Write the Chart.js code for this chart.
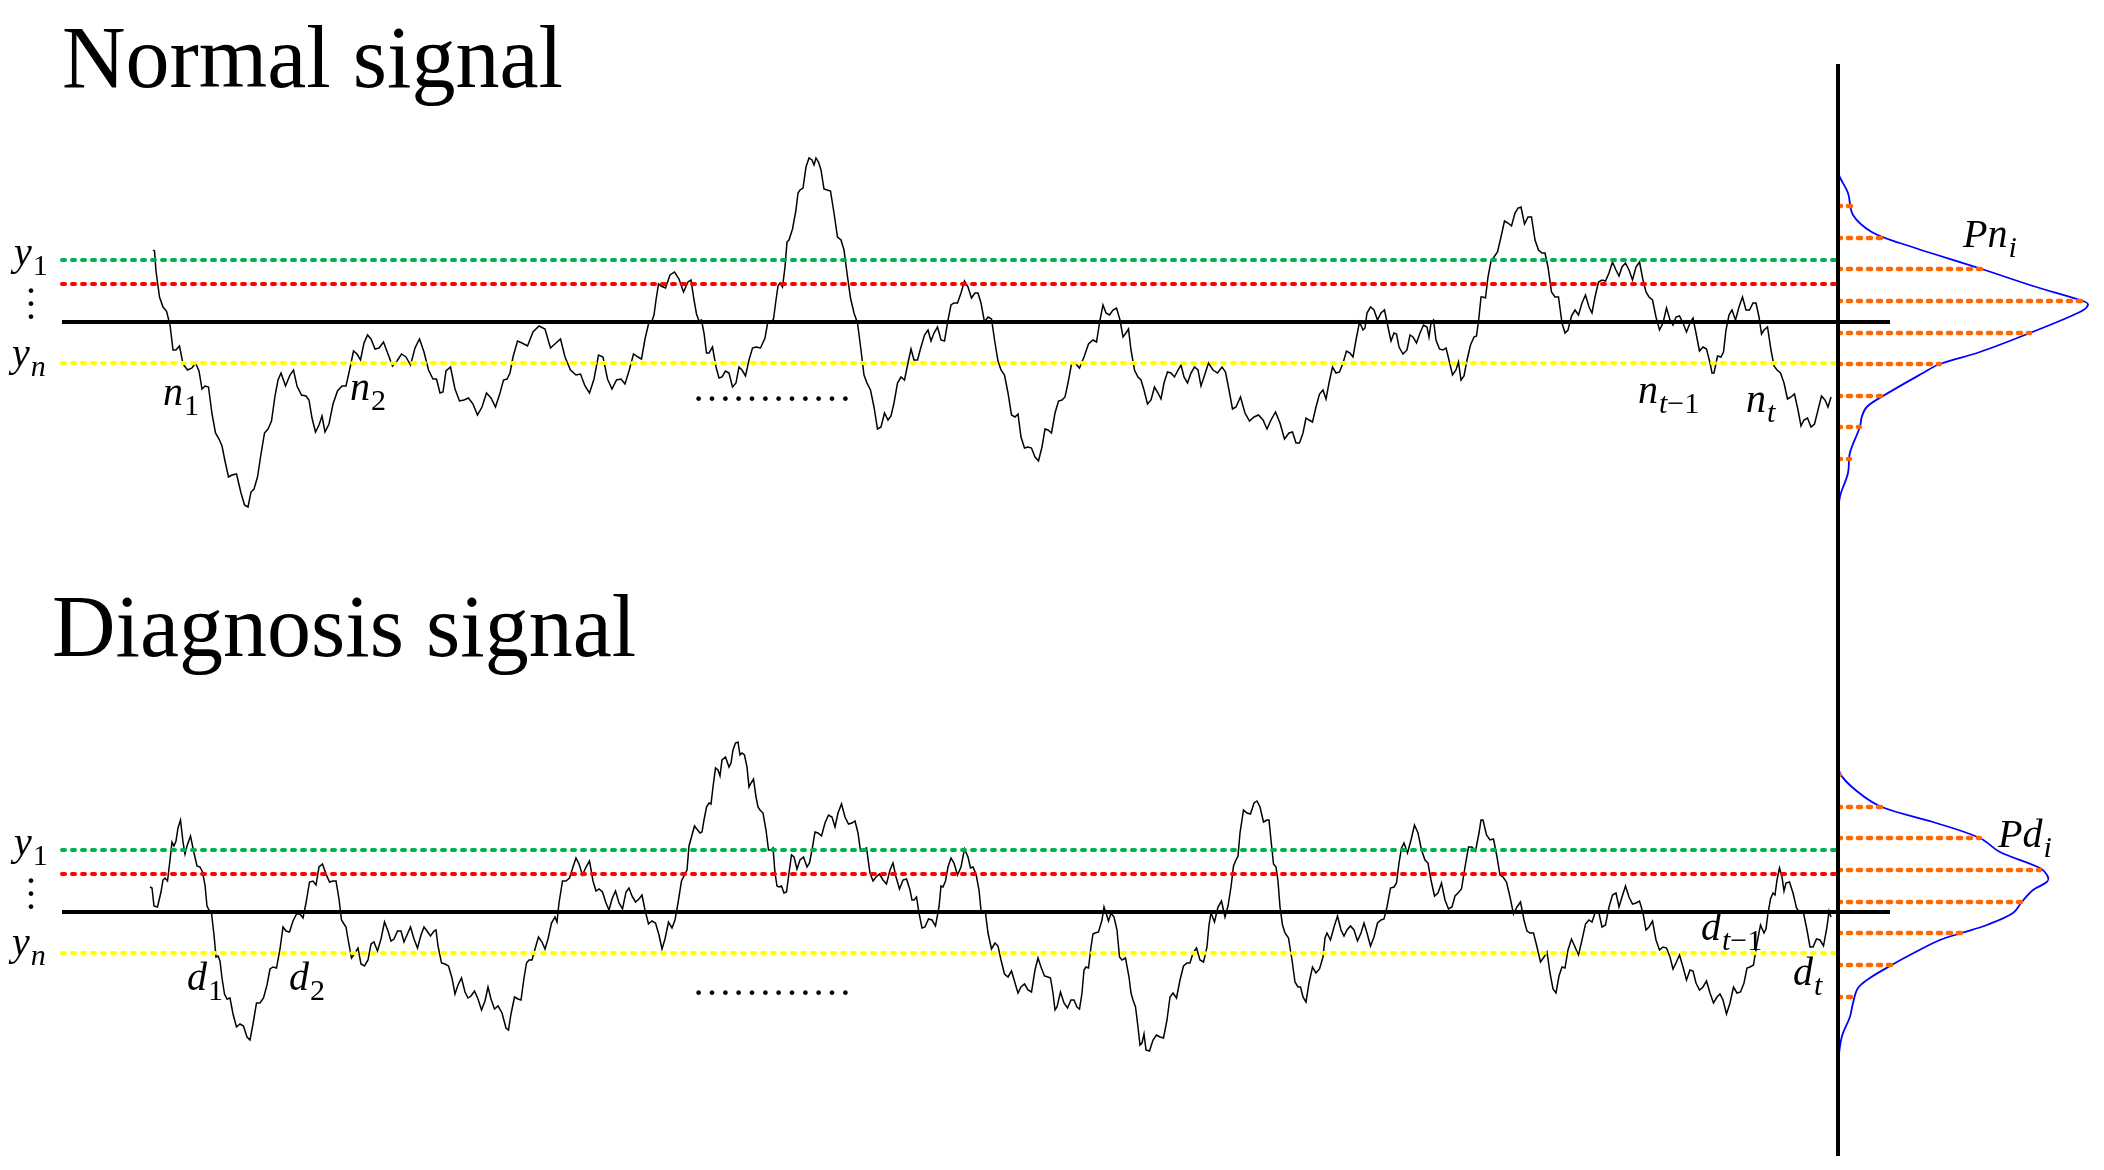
<!DOCTYPE html>
<html>
<head>
<meta charset="utf-8">
<script src="https://cdn.jsdelivr.net/npm/chart.js@4.4.1/dist/chart.umd.min.js"></script>
<style>
  html, body { margin: 0; padding: 0; background: #fff; }
  canvas { display: block; }
</style>
</head>
<body>
<canvas id="chart" width="2104" height="1170"></canvas>
<script>
// signals: [time index, amplitude] (black reference line = 0)
const normalSignal = [
  [0.3,7.2],[0.45,7.1],[0.6,5.1],[0.95,2.5],[1.3,1.5],[1.65,1.1],[2.0,-0.3],[2.3,-2.8],[2.6,-2.8],[2.95,-2.4],
  [3.3,-4.2],[3.75,-4.8],[4.2,-4.6],[4.55,-4.1],[4.9,-4.9],[5.2,-6.7],[5.5,-6.4],[5.85,-6.5],[6.2,-9.2],[6.55,-11.1],
  [6.9,-11.7],[7.2,-12.4],[7.5,-13.9],[7.85,-15.5],[8.2,-15.3],[8.65,-15.2],[9.1,-17.1],[9.45,-18.3],[9.8,-18.5],[10.1,-17.0],
  [10.4,-16.7],[10.75,-15.5],[11.1,-13.2],[11.45,-11.1],[11.8,-10.7],[12.15,-9.9],[12.5,-7.4],[12.8,-5.8],[13.1,-5.1],[13.55,-6.4],
  [14.0,-5.3],[14.35,-4.8],[14.7,-6.4],[15.15,-7.3],[15.6,-7.4],[15.9,-7.8],[16.2,-9.6],[16.55,-11.0],[16.9,-10.3],[17.2,-9.4],
  [17.5,-11.0],[17.9,-10.2],[18.3,-8.2],[18.75,-6.9],[19.2,-6.4],[19.6,-6.4],[20.0,-4.6],[20.35,-2.9],[20.7,-3.2],[21.05,-3.8],
  [21.4,-2.1],[21.75,-1.3],[22.1,-1.7],[22.5,-2.7],[22.9,-2.6],[23.35,-2.0],[23.8,-3.2],[24.25,-4.4],[24.7,-3.9],[25.15,-3.2],
  [25.6,-3.5],[26.05,-4.3],[26.5,-2.6],[26.95,-1.7],[27.4,-3.0],[27.85,-4.8],[28.3,-5.7],[28.65,-5.7],[29.0,-7.1],[29.3,-7.0],
  [29.6,-4.9],[30.05,-4.5],[30.5,-6.7],[30.95,-7.9],[31.4,-7.8],[31.85,-7.6],[32.3,-8.2],[32.75,-9.3],[33.2,-8.5],[33.65,-7.1],
  [34.1,-7.6],[34.55,-8.5],[35.0,-7.1],[35.35,-5.8],[35.7,-5.7],[36.0,-5.1],[36.3,-3.5],[36.75,-1.9],[37.2,-2.1],[37.75,-2.4],
  [38.3,-1.0],[38.9,-0.4],[39.5,-0.7],[40.05,-2.6],[40.6,-2.1],[41.05,-1.7],[41.5,-3.5],[42.05,-4.8],[42.6,-5.3],[43.05,-5.2],
  [43.5,-6.4],[43.95,-7.1],[44.4,-5.7],[44.85,-3.3],[45.3,-3.5],[45.75,-5.7],[46.2,-6.7],[46.65,-5.8],[47.1,-5.7],[47.5,-6.2],
  [47.9,-4.9],[48.35,-3.2],[48.8,-3.5],[49.15,-3.7],[49.5,-1.7],[49.85,-0.2],[50.2,0.1],[50.4,0.7],[50.6,2.2],[50.85,3.8],
  [51.1,3.6],[51.55,3.4],[52.0,4.7],[52.45,5.0],[52.9,4.3],[53.35,3.0],[53.8,4.0],[54.1,4.2],[54.4,2.2],[54.65,0.8],
  [54.9,0.1],[55.15,0.2],[55.4,-1.1],[55.65,-3.1],[55.9,-3.1],[56.25,-2.5],[56.6,-4.5],[56.9,-5.6],[57.2,-5.5],[57.55,-4.9],
  [57.9,-5.1],[58.25,-6.5],[58.6,-6.1],[58.9,-4.5],[59.2,-4.8],[59.55,-5.4],[59.9,-3.8],[60.25,-2.6],[60.6,-2.5],[61.05,-2.6],
  [61.5,-1.6],[61.8,0.1],[62.1,-0.1],[62.35,0.3],[62.6,2.2],[62.8,3.6],[63.0,3.9],[63.25,3.5],[63.5,5.5],[63.7,8.0],
  [63.9,8.2],[64.25,9.3],[64.6,11.2],[64.8,12.9],[65.0,13.2],[65.3,13.4],[65.6,15.5],[65.9,16.4],[66.2,16.2],[66.4,15.7],
  [66.6,16.4],[66.85,16.0],[67.1,15.2],[67.4,13.3],[67.7,13.2],[68.05,13.1],[68.4,10.9],[68.75,8.5],[69.1,8.2],[69.4,7.2],
  [69.7,4.9],[70.05,2.4],[70.4,0.9],[70.75,-0.1],[71.1,-2.8],[71.4,-5.3],[71.7,-6.1],[72.05,-6.8],[72.4,-8.5],[72.75,-10.7],
  [73.1,-10.5],[73.45,-9.1],[73.8,-9.8],[74.1,-9.4],[74.4,-8.1],[74.75,-6.1],[75.1,-5.5],[75.45,-5.8],[75.8,-4.1],[76.1,-2.7],
  [76.4,-3.8],[76.75,-3.8],[77.1,-2.5],[77.45,-1.3],[77.8,-0.8],[78.1,-1.9],[78.4,-1.1],[78.75,-0.5],[79.1,-1.8],[79.45,-1.9],
  [79.8,0.2],[80.1,1.7],[80.4,1.9],[80.75,1.9],[81.1,2.9],[81.45,4.1],[81.8,3.5],[82.15,2.4],[82.5,2.9],[82.8,2.9],
  [83.1,1.9],[83.45,0.0],[83.8,0.5],[84.15,0.3],[84.5,-2.1],[84.8,-3.9],[85.1,-4.8],[85.45,-5.3],[85.8,-7.1],[86.15,-9.3],
  [86.5,-9.5],[86.8,-9.2],[87.1,-11.5],[87.45,-12.6],[87.8,-12.5],[88.15,-12.6],[88.5,-13.5],[88.85,-13.9],[89.2,-12.5],[89.5,-10.7],
  [89.8,-10.8],[90.15,-11.1],[90.5,-9.1],[90.85,-7.9],[91.2,-7.8],[91.5,-7.5],[91.8,-6.1],[92.15,-4.2],[92.5,-4.1],[92.95,-4.6],
  [93.4,-3.5],[93.85,-2.2],[94.3,-1.8],[94.65,-2.0],[95.0,0.2],[95.3,1.7],[95.6,0.9],[95.95,0.7],[96.3,1.2],[96.65,1.4],
  [97.0,0.2],[97.3,-1.5],[97.6,-1.1],[97.85,-0.7],[98.1,-2.8],[98.45,-4.8],[98.8,-5.5],[99.1,-5.8],[99.4,-6.8],[99.75,-8.2],
  [100.1,-7.8],[100.45,-6.5],[100.8,-7.1],[101.1,-7.7],[101.4,-6.1],[101.75,-5.0],[102.1,-5.1],[102.45,-5.5],[102.8,-4.8],[103.1,-4.3],
  [103.4,-5.5],[103.75,-6.1],[104.1,-5.1],[104.45,-4.5],[104.8,-4.8],[105.1,-6.4],[105.4,-5.5],[105.85,-4.1],[106.3,-4.8],[106.75,-5.1],
  [107.2,-4.5],[107.55,-5.0],[107.9,-6.8],[108.25,-8.7],[108.6,-8.5],[109.05,-7.5],[109.5,-9.1],[109.95,-9.9],[110.4,-9.5],[110.85,-9.3],
  [111.3,-9.8],[111.7,-10.7],[112.1,-9.8],[112.55,-9.0],[113.0,-10.1],[113.45,-11.7],[113.9,-11.1],[114.25,-11.0],[114.6,-12.1],[114.95,-12.1],
  [115.3,-11.1],[115.6,-9.6],[115.9,-9.8],[116.25,-10.0],[116.6,-8.5],[116.95,-7.2],[117.3,-6.8],[117.6,-7.7],[117.9,-6.1],[118.25,-4.5],
  [118.6,-5.1],[118.95,-5.0],[119.3,-4.1],[119.65,-2.9],[120.0,-3.1],[120.3,-3.5],[120.6,-1.8],[120.95,0.0],[121.3,-0.8],[121.5,-0.6],
  [121.7,0.9],[122.05,1.5],[122.4,1.2],[122.75,0.2],[123.1,0.9],[123.45,1.2],[123.8,-0.5],[124.1,-1.9],[124.4,-1.1],[124.65,-1.2],
  [124.9,-2.5],[125.3,-3.2],[125.7,-2.8],[126.0,-1.3],[126.3,-1.5],[126.65,-2.1],[127.0,-1.1],[127.35,-0.3],[127.7,-0.5],[127.9,-1.5],
  [128.1,-0.1],[128.35,0.2],[128.6,-1.8],[128.95,-2.7],[129.3,-2.8],[129.6,-2.6],[129.9,-3.8],[130.25,-5.3],[130.6,-4.8],[130.85,-4.0],
  [131.1,-5.8],[131.4,-5.4],[131.7,-3.8],[132.05,-2.3],[132.4,-1.5],[132.65,-1.4],[132.9,0.5],[133.1,2.5],[133.3,2.5],[133.55,2.4],
  [133.8,4.5],[134.1,6.1],[134.4,6.5],[134.75,7.0],[135.1,8.5],[135.45,10.1],[135.8,9.9],[136.15,9.6],[136.5,10.9],[136.8,11.4],
  [137.1,11.5],[137.45,9.8],[137.8,10.5],[138.15,10.5],[138.5,8.2],[138.85,7.2],[139.2,6.9],[139.5,6.9],[139.8,5.5],[140.15,3.0],
  [140.5,2.5],[140.85,2.5],[141.2,-0.1],[141.5,-1.1],[141.8,-0.8],[142.15,0.6],[142.5,1.2],[142.85,0.7],[143.2,1.9],[143.55,2.7],
  [143.9,1.5],[144.2,0.9],[144.5,2.5],[144.85,4.0],[145.2,4.2],[145.55,4.1],[145.9,4.9],[146.25,6.0],[146.6,5.2],[146.9,4.6],
  [147.2,5.5],[147.55,5.9],[147.9,5.2],[148.25,4.2],[148.6,5.5],[148.95,6.0],[149.3,4.2],[149.6,3.0],[149.9,2.5],[150.25,2.2],
  [150.6,0.5],[150.95,-0.8],[151.3,-0.1],[151.65,1.4],[152.0,0.2],[152.3,-0.3],[152.6,0.5],[152.95,0.6],[153.3,-0.1],[153.65,-1.0],
  [154.0,-0.1],[154.3,0.4],[154.6,-1.1],[154.95,-2.9],[155.3,-2.5],[155.65,-2.7],[156.0,-4.1],[156.2,-5.1],[156.4,-5.1],[156.75,-3.4],
  [157.1,-3.5],[157.35,-3.0],[157.6,-0.8],[157.9,0.7],[158.2,1.2],[158.55,0.2],[158.9,1.5],[159.25,2.5],[159.6,1.2],[159.95,1.2],
  [160.3,1.9],[160.6,1.9],[160.9,0.5],[161.15,-1.2],[161.4,-0.8],[161.75,-0.5],[162.1,-2.8],[162.4,-4.4],[162.7,-4.8],[163.05,-5.1],
  [163.4,-6.1],[163.75,-7.7],[164.1,-7.5],[164.45,-7.2],[164.8,-8.8],[165.1,-10.4],[165.4,-9.8],[165.75,-9.6],[166.1,-10.5],[166.45,-10.2],
  [166.8,-8.8],[167.15,-7.4],[167.5,-7.8],[167.8,-8.5],[168.1,-7.5]
];

const diagnosisSignal = [
  [0.0,2.5],[0.2,2.4],[0.4,0.6],[0.75,0.5],[1.1,2.0],[1.3,3.2],[1.5,3.4],[1.75,3.1],[2.0,5.2],[2.2,7.0],
  [2.4,6.6],[2.6,7.1],[2.8,8.4],[3.05,9.2],[3.3,7.0],[3.5,5.8],[3.7,6.6],[4.05,7.6],[4.4,5.9],[4.7,4.6],
  [5.0,4.5],[5.25,4.0],[5.5,2.7],[5.7,0.6],[5.9,0.2],[6.15,-0.1],[6.4,-2.3],[6.6,-4.5],[6.8,-4.4],[7.0,-4.9],
  [7.2,-6.6],[7.45,-8.2],[7.7,-8.7],[8.0,-8.6],[8.3,-10.2],[8.65,-11.5],[9.0,-11.2],[9.35,-11.4],[9.7,-12.5],[10.0,-12.8],
  [10.3,-11.2],[10.65,-9.1],[11.0,-9.1],[11.35,-8.6],[11.7,-7.3],[12.0,-5.7],[12.3,-5.5],[12.65,-5.6],[13.0,-3.7],[13.3,-1.5],
  [13.6,-1.9],[13.95,-2.0],[14.3,-0.9],[14.65,-0.2],[15.0,-0.2],[15.3,-0.6],[15.6,0.9],[15.95,3.0],[16.3,3.1],[16.6,2.7],
  [16.9,4.5],[17.25,4.8],[17.6,3.8],[17.95,3.0],[18.3,3.1],[18.6,3.1],[18.9,1.3],[19.15,-0.8],[19.4,-1.2],[19.6,-1.5],
  [19.8,-2.7],[20.15,-4.6],[20.5,-4.1],[20.8,-3.6],[21.1,-5.2],[21.45,-5.4],[21.8,-4.8],[22.1,-3.2],[22.4,-3.0],[22.75,-3.9],
  [23.1,-2.7],[23.45,-1.0],[23.8,-1.9],[24.1,-2.9],[24.4,-2.7],[24.75,-1.9],[25.1,-1.9],[25.4,-3.0],[25.7,-2.3],[26.05,-1.5],
  [26.4,-2.7],[26.75,-3.6],[27.1,-2.3],[27.4,-1.5],[27.7,-1.9],[28.05,-2.4],[28.4,-1.9],[28.6,-1.8],[28.8,-3.4],[29.15,-5.1],
  [29.5,-5.2],[29.85,-5.4],[30.2,-6.6],[30.5,-8.2],[30.8,-7.3],[31.15,-6.6],[31.5,-8.0],[31.8,-8.6],[32.1,-8.4],[32.45,-7.9],
  [32.8,-8.7],[33.15,-9.8],[33.5,-8.9],[33.8,-7.5],[34.1,-8.7],[34.45,-9.7],[34.8,-9.4],[35.2,-10.1],[35.6,-11.6],[35.85,-11.8],
  [36.1,-10.2],[36.45,-8.5],[36.8,-8.7],[37.1,-8.8],[37.4,-6.6],[37.65,-5.1],[37.9,-4.8],[38.2,-4.8],[38.5,-3.7],[38.85,-2.5],
  [39.2,-3.0],[39.5,-3.7],[39.8,-2.7],[40.15,-1.1],[40.5,-0.5],[40.7,-1.0],[40.9,0.9],[41.25,3.1],[41.6,3.1],[41.95,3.4],
  [42.3,4.5],[42.6,5.4],[42.9,4.8],[43.25,3.7],[43.6,4.5],[43.95,5.1],[44.3,3.1],[44.6,2.1],[44.9,2.3],[45.25,2.0],
  [45.6,0.9],[45.9,0.2],[46.2,1.3],[46.55,2.1],[46.9,0.9],[47.25,0.3],[47.6,2.0],[47.9,2.4],[48.2,1.6],[48.55,1.0],
  [48.9,1.3],[49.2,1.7],[49.5,0.2],[49.85,-1.2],[50.2,-0.9],[50.55,-1.1],[50.9,-2.3],[51.2,-3.7],[51.5,-2.7],[51.85,-1.0],
  [52.2,-1.6],[52.5,-0.8],[52.8,0.9],[53.15,3.1],[53.5,3.8],[53.7,4.2],[53.9,6.6],[54.45,8.6],[55.0,7.9],[55.2,8.0],
  [55.4,9.2],[55.65,10.5],[55.9,10.9],[56.1,10.8],[56.3,12.5],[56.55,14.4],[56.8,14.2],[57.0,13.6],[57.2,15.2],[57.55,15.5],
  [57.9,14.5],[58.1,14.9],[58.3,16.2],[58.55,16.9],[58.8,17.0],[59.0,15.7],[59.2,15.9],[59.45,15.7],[59.7,14.5],[59.9,12.5],
  [60.1,12.9],[60.35,13.3],[60.6,11.5],[60.8,10.5],[61.0,10.2],[61.3,9.9],[61.6,8.2],[61.85,6.2],[62.1,6.2],[62.3,6.4],
  [62.5,3.9],[62.7,2.6],[62.9,2.5],[63.15,2.6],[63.4,1.9],[63.65,2.0],[63.9,3.9],[64.15,5.7],[64.4,5.5],[64.7,4.3],
  [65.0,5.2],[65.35,5.5],[65.7,4.5],[65.95,4.9],[66.2,6.2],[66.5,8.0],[66.8,7.9],[67.15,7.6],[67.5,8.9],[67.85,9.7],
  [68.2,9.5],[68.5,8.5],[68.8,9.9],[69.15,10.8],[69.5,9.5],[69.85,8.8],[70.2,8.9],[70.5,9.1],[70.8,7.9],[71.05,6.1],
  [71.3,6.2],[71.65,6.4],[72.0,3.9],[72.3,3.1],[72.6,3.5],[72.95,3.8],[73.3,3.2],[73.65,2.8],[74.0,4.2],[74.3,4.9],
  [74.6,3.5],[74.95,2.3],[75.3,3.2],[75.65,3.3],[76.0,2.2],[76.2,1.2],[76.4,1.2],[76.65,1.5],[76.9,-0.1],[77.2,-1.6],
  [77.5,-1.5],[77.85,-0.7],[78.2,-0.8],[78.55,-1.4],[78.9,0.5],[79.1,2.6],[79.3,2.5],[79.55,3.1],[79.8,4.5],[80.1,5.4],
  [80.4,4.9],[80.75,3.7],[81.1,4.5],[81.45,6.3],[81.8,5.5],[82.05,4.4],[82.3,4.5],[82.6,3.8],[82.9,2.2],[83.1,0.2],
  [83.3,-0.1],[83.55,-0.1],[83.8,-2.1],[84.15,-3.7],[84.5,-3.1],[84.8,-3.4],[85.1,-4.8],[85.45,-6.2],[85.8,-6.5],[86.15,-5.9],
  [86.5,-7.1],[86.8,-8.1],[87.1,-7.5],[87.45,-7.2],[87.8,-7.8],[88.15,-8.0],[88.5,-5.8],[88.8,-4.6],[89.1,-5.5],[89.45,-6.4],
  [89.8,-6.5],[90.05,-6.6],[90.3,-8.1],[90.5,-9.8],[90.7,-9.5],[91.05,-8.0],[91.4,-9.1],[91.75,-9.6],[92.1,-8.8],[92.4,-8.8],
  [92.7,-9.5],[92.95,-9.7],[93.2,-8.1],[93.4,-5.8],[93.6,-5.5],[93.85,-5.6],[94.1,-3.5],[94.3,-2.2],[94.5,-2.1],[94.85,-2.0],
  [95.2,-0.8],[95.4,0.5],[95.6,-0.1],[95.85,-0.9],[96.1,-0.1],[96.4,-0.5],[96.7,-1.8],[96.95,-4.5],[97.2,-4.8],[97.55,-4.6],
  [97.9,-6.5],[98.1,-8.1],[98.3,-8.8],[98.55,-9.5],[98.8,-11.5],[99.0,-13.3],[99.2,-13.1],[99.4,-12.2],[99.6,-13.8],[99.95,-13.9],
  [100.3,-12.8],[100.65,-12.3],[101.0,-12.5],[101.35,-12.6],[101.7,-10.8],[102.0,-8.5],[102.3,-8.1],[102.65,-8.6],[103.0,-6.8],[103.35,-5.4],
  [103.7,-5.1],[104.0,-5.1],[104.3,-4.1],[104.65,-3.6],[105.0,-4.8],[105.35,-5.0],[105.7,-3.5],[105.9,-1.3],[106.1,-0.1],[106.45,-1.0],
  [106.8,0.5],[107.15,1.1],[107.5,-0.5],[107.8,0.6],[108.1,2.5],[108.35,4.6],[108.6,5.2],[108.8,5.6],[109.0,7.9],[109.35,10.2],
  [109.7,9.9],[110.05,9.8],[110.4,10.9],[110.7,11.1],[111.0,10.5],[111.35,9.0],[111.7,9.2],[111.9,9.2],[112.1,7.2],[112.35,4.8],
  [112.6,4.5],[112.8,3.1],[113.0,0.5],[113.25,-1.3],[113.5,-2.1],[113.85,-2.6],[114.2,-4.8],[114.5,-7.0],[114.8,-7.5],[115.05,-7.5],
  [115.3,-8.5],[115.6,-9.0],[115.9,-7.1],[116.25,-5.5],[116.6,-6.1],[116.95,-5.7],[117.3,-4.5],[117.5,-2.6],[117.7,-2.1],[118.05,-2.8],
  [118.4,-1.5],[118.75,-0.4],[119.1,-1.8],[119.4,-2.4],[119.7,-1.8],[120.05,-1.4],[120.4,-1.8],[120.75,-2.9],[121.1,-2.1],[121.4,-1.1],
  [121.7,-2.1],[122.05,-3.4],[122.4,-2.5],[122.75,-1.1],[123.1,-0.8],[123.4,-0.7],[123.7,0.5],[124.05,2.4],[124.4,2.5],[124.65,2.9],
  [124.9,4.9],[125.15,6.4],[125.4,6.9],[125.75,5.9],[126.1,7.2],[126.45,8.7],[126.8,7.9],[127.15,6.2],[127.5,5.2],[127.8,4.9],
  [128.1,3.2],[128.45,1.6],[128.8,1.9],[129.15,2.9],[129.5,1.2],[129.85,0.3],[130.2,0.5],[130.5,1.6],[130.8,1.9],[131.15,2.3],
  [131.5,4.5],[131.85,6.5],[132.2,6.5],[132.55,6.1],[132.9,7.9],[133.1,9.2],[133.3,9.2],[133.65,7.7],[134.0,7.2],[134.35,7.3],
  [134.7,5.5],[135.0,3.7],[135.3,3.5],[135.65,3.0],[136.0,1.5],[136.35,-0.2],[136.7,0.5],[137.05,1.0],[137.4,-0.8],[137.7,-1.9],
  [138.0,-2.1],[138.35,-2.1],[138.7,-3.5],[139.05,-5.0],[139.4,-4.5],[139.7,-4.0],[140.0,-6.1],[140.3,-7.7],[140.6,-8.1],[140.9,-6.4],
  [141.2,-5.5],[141.5,-5.6],[141.8,-3.8],[142.15,-2.7],[142.5,-3.5],[142.85,-4.3],[143.2,-2.8],[143.55,-1.2],[143.9,-0.8],[144.2,-1.0],
  [144.5,-0.1],[144.85,0.1],[145.2,-1.5],[145.55,-1.3],[145.9,0.5],[146.25,1.7],[146.6,1.9],[146.9,0.5],[147.2,1.5],[147.55,2.6],
  [147.9,1.5],[148.25,0.8],[148.6,0.9],[148.95,1.1],[149.3,-0.1],[149.6,-1.8],[149.9,-1.5],[150.25,-0.9],[150.6,-2.8],[150.95,-3.8],
  [151.3,-3.5],[151.65,-3.6],[152.0,-4.5],[152.3,-5.7],[152.6,-5.1],[152.95,-4.3],[153.3,-5.5],[153.65,-6.8],[154.0,-5.8],[154.3,-5.9],
  [154.6,-7.1],[154.95,-7.8],[155.3,-7.5],[155.65,-6.9],[156.0,-8.1],[156.35,-9.1],[156.7,-8.5],[157.0,-8.2],[157.3,-8.8],[157.65,-10.2],
  [158.0,-9.1],[158.35,-7.5],[158.7,-8.1],[159.05,-8.0],[159.4,-7.1],[159.7,-5.6],[160.0,-5.5],[160.35,-5.3],[160.7,-3.1],[161.05,-1.3],
  [161.4,-2.1],[161.6,-1.7],[161.8,-0.1],[162.05,1.3],[162.3,1.9],[162.5,1.7],[162.7,3.2],[162.95,4.4],[163.2,3.5],[163.4,2.1],
  [163.6,2.9],[163.95,3.0],[164.3,1.9],[164.65,0.4],[165.0,-0.1],[165.35,-0.1],[165.7,-1.8],[166.0,-3.5],[166.3,-3.5],[166.65,-2.7],
  [167.0,-2.8],[167.35,-3.4],[167.7,-1.5],[167.9,0.1],[168.1,-0.5]
];

// quantisation levels shared by both panels
const levelY1 = 6.2;
const levelMid = 3.8;
const levelYn = -4.1;
const levelSpan = [-8.8, 168.8];
const baseSpan = [-8.8, 174];

// probability per bin (level, p)
const normalBinLevels = [11.6, 8.4, 5.3, 2.1, -1.1, -4.2, -7.4, -10.5, -13.7];
const normalBinP = [0.022, 0.070, 0.230, 0.392, 0.307, 0.163, 0.072, 0.035, 0.019];
const diagBinLevels = [13.7, 10.5, 7.4, 4.2, 1.0, -2.1, -5.3, -8.5];
const diagBinP = [0.003, 0.070, 0.227, 0.323, 0.294, 0.198, 0.086, 0.022];

// density curves [p, level]
const normalPdf = [
  [0.0,17.4],[0.0,15.0],[0.016,12.9],[0.024,10.7],[0.054,9.0],[0.099,7.9],[0.230,5.3],[0.312,3.6],
  [0.392,2.1],[0.400,1.7],[0.387,1.0],[0.307,-1.1],[0.227,-3.0],[0.163,-4.2],[0.136,-5.1],[0.072,-7.4],
  [0.046,-8.5],[0.038,-9.5],[0.035,-10.5],[0.019,-13.1],[0.016,-15.1],[0.003,-17.5],[0.0,-19.8]
];
const diagPdf = [
  [0.0,16.2],[0.003,13.9],[0.032,12.0],[0.070,10.5],[0.152,9.0],[0.227,7.4],[0.259,6.0],[0.323,4.4],
  [0.336,3.5],[0.334,3.0],[0.312,2.2],[0.294,1.0],[0.280,-0.1],[0.238,-1.3],[0.198,-2.1],[0.163,-2.8],
  [0.115,-4.3],[0.086,-5.3],[0.051,-6.6],[0.032,-7.6],[0.024,-9.1],[0.019,-10.5],[0.006,-12.5],[0.0,-15.0]
];

const titles = [
  { text: 'Normal signal', x: 62, y: 87 },
  { text: 'Diagnosis signal', x: 52, y: 656 }
];

const labels = [
  { base: 'y', sub: '1', x: 14, y: 265 },
  { base: 'y', sub: 'n', x: 12, y: 366 },
  { base: 'n', sub: '1', x: 163, y: 405 },
  { base: 'n', sub: '2', x: 350, y: 400 },
  { base: 'n', sub: 't\u22121', x: 1638, y: 403 },
  { base: 'n', sub: 't', x: 1746, y: 412 },
  { base: 'Pn', sub: 'i', x: 1963, y: 247 },
  { base: 'y', sub: '1', x: 14, y: 855 },
  { base: 'y', sub: 'n', x: 12, y: 955 },
  { base: 'd', sub: '1', x: 187, y: 990 },
  { base: 'd', sub: '2', x: 289, y: 990 },
  { base: 'd', sub: 't\u22121', x: 1701, y: 940 },
  { base: 'd', sub: 't', x: 1793, y: 985 },
  { base: 'Pd', sub: 'i', x: 1998, y: 847 }
];

const GREEN = '#00b050', RED = '#ff0000', YELLOW = '#ffff00', ORANGE = '#ff6600', BLUE = '#0000ff';
const SERIF = '"Liberation Serif", "Times New Roman", Times, serif';

function pts(arr) {
  return arr.map(p => ({ x: p[0], y: p[1] }));
}

function hLine(level, span, color, yAxis, dotted) {
  return {
    data: [{ x: span[0], y: level }, { x: span[1], y: level }],
    xAxisID: 'x', yAxisID: yAxis,
    borderColor: color, borderWidth: 4,
    borderDash: dotted ? [3, 7] : [],
    borderCapStyle: dotted ? 'round' : 'butt',
    showLine: true, pointRadius: 0, order: 1
  };
}

function binLines(levels, probs, yAxis) {
  return levels.map((lv, i) => ({
    data: [{ x: 0, y: lv }, { x: probs[i], y: lv }],
    xAxisID: 'xd', yAxisID: yAxis,
    borderColor: ORANGE, borderWidth: 4.5,
    borderDash: [3, 7], borderCapStyle: 'round',
    showLine: true, pointRadius: 0, order: 2
  }));
}

function panel(signal, pdf, binLv, binP, yAxis) {
  return [
    {
      data: pts(signal), xAxisID: 'x', yAxisID: yAxis,
      borderColor: '#000', borderWidth: 1.5, showLine: true, pointRadius: 0, order: 10
    },
    hLine(levelY1, levelSpan, GREEN, yAxis, true),
    hLine(levelMid, levelSpan, RED, yAxis, true),
    hLine(levelYn, levelSpan, YELLOW, yAxis, true),
    hLine(0, baseSpan, '#000', yAxis, false),
    ...binLines(binLv, binP, yAxis),
    {
      data: pts(pdf), xAxisID: 'xd', yAxisID: yAxis,
      borderColor: BLUE, borderWidth: 1.8, tension: 0.35,
      showLine: true, pointRadius: 0, order: 3
    }
  ];
}

// vertical probability axis through both panels
const pAxis = {
  data: [{ x: 0, y: 25.8 }, { x: 0, y: -83.4 }],
  xAxisID: 'xd', yAxisID: 'yTop',
  borderColor: '#000', borderWidth: 4, showLine: true, pointRadius: 0, order: 0
};

const textPlugin = {
  id: 'texts',
  afterDatasetsDraw(chart) {
    const ctx = chart.ctx;
    ctx.save();
    ctx.fillStyle = '#000';
    ctx.textBaseline = 'alphabetic';
    ctx.textAlign = 'left';

    ctx.font = '88px ' + SERIF;
    titles.forEach(t => ctx.fillText(t.text, t.x, t.y));

    labels.forEach(l => {
      ctx.font = 'italic 40px ' + SERIF;
      ctx.fillText(l.base, l.x, l.y);
      let x = l.x + ctx.measureText(l.base).width + 1;
      for (const ch of l.sub) {
        const upright = /[0-9\u2212]/.test(ch);
        ctx.font = (upright ? '' : 'italic ') + '30px ' + SERIF;
        ctx.fillText(ch, x, l.y + 10);
        x += ctx.measureText(ch).width;
      }
    });

    // vertical ellipsis between y1 and yn
    ctx.font = '40px ' + SERIF;
    [293, 306, 319, 883, 896, 909].forEach(y => ctx.fillText('.', 26, y));
    // horizontal ellipsis in the middle of each signal
    ctx.fillText('\u2026\u2026\u2026\u2026', 692, 401);
    ctx.fillText('\u2026\u2026\u2026\u2026', 692, 995);
    ctx.restore();
  }
};

new Chart(document.getElementById('chart'), {
  type: 'scatter',
  data: {
    datasets: [
      ...panel(normalSignal, normalPdf, normalBinLevels, normalBinP, 'yTop'),
      ...panel(diagnosisSignal, diagPdf, diagBinLevels, diagBinP, 'yBot'),
      pAxis
    ]
  },
  options: {
    responsive: false,
    devicePixelRatio: 1,
    animation: false,
    events: [],
    layout: { padding: 0 },
    plugins: { legend: { display: false }, tooltip: { enabled: false } },
    scales: {
      x: { type: 'linear', display: false, min: -15, max: 195.4 },
      xd: { type: 'linear', display: false, min: -2.9408, max: 0.4256 },
      yTop: { type: 'linear', display: false, min: -84.8, max: 32.2 },
      yBot: { type: 'linear', display: false, min: -25.8, max: 91.2 }
    }
  },
  plugins: [textPlugin]
});
</script>
</body>
</html>
